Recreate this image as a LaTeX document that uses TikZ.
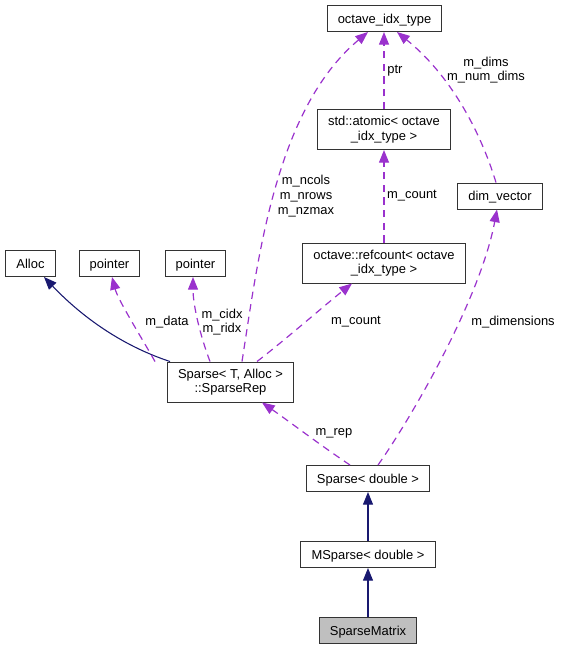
\documentclass[tikz,border=0pt]{standalone}
\usepackage{fontspec}
\setmainfont{Liberation Sans}
\usetikzlibrary{arrows.meta}
\definecolor{inhblue}{RGB}{25,25,112}
\definecolor{usepurple}{RGB}{154,50,205}
\newcommand{\dxfont}{\fontsize{9.7}{11}\selectfont}
\tikzset{
  cls/.style={draw=black!80, line width=0.75pt, font=\dxfont, inner xsep=8pt, inner ysep=2pt, text height=8pt, text depth=1pt, minimum height=19.5pt},
  twoline/.style={align=center, text height=, text depth=, minimum height=30pt},
  lbl/.style={font=\dxfont, align=center, inner sep=0pt},
  inherit/.style={draw=inhblue, line width=0.8pt, -{Triangle[length=9.5pt,width=7.5pt]}},
  member/.style={draw=usepurple, line width=0.9pt, dash pattern=on 5.5pt off 4pt, -{Triangle[length=9.5pt,width=7.5pt,fill=usepurple]}}
}
\begin{document}
\begin{tikzpicture}[x=0.75pt,y=-0.75pt]
\useasboundingbox (0,0) rectangle (561,649);
\node[cls] (idx) at (384.5,18.5) {octave\_idx\_type};
\node[cls,twoline] (atomic) at (384,129.5) {std::atomic< octave\\\_idx\_type >};
\node[cls] (dim) at (500,196) {dim\_vector};
\node[cls,twoline] (refc) at (384,263) {octave::refcount< octave\\\_idx\_type >};
\node[cls] (alloc) at (30.5,263.5) {Alloc};
\node[cls] (ptra) at (109.5,263.5) {pointer};
\node[cls] (ptrb) at (195.5,263.5) {pointer};
\node[cls,twoline] (rep) at (230.5,382) {Sparse< T, Alloc >\\::SparseRep};
\node[cls] (sparse) at (368,478.5) {Sparse< double >};
\node[cls] (msp) at (368,554.5) {MSparse< double >};
\node[cls,fill=black!25] (smat) at (368,630.5) {SparseMatrix};
% labels
\node[lbl] (lptr) at (395,71) {ptr};
\node[lbl] (ldims) at (486,70) {m\_dims\\m\_num\_dims};
\node[lbl] (lsize) at (306,196) {m\_ncols\\m\_nrows\\m\_nzmax};
\node[lbl] (lcnta) at (412,196) {m\_count};
\node[lbl] (ldata) at (167,322) {m\_data};
\node[lbl] (lidx) at (222,322) {m\_cidx\\m\_ridx};
\node[lbl] (lcntb) at (356,322) {m\_count};
\node[lbl] (ldimen) at (513,322) {m\_dimensions};
\node[lbl] (lrep) at (334,433) {m\_rep};
% inheritance
\draw[inherit] (rep.north -| 170,0) .. controls (120,345) and (80,315) .. (alloc.south -| 44,0);
\draw[inherit] (msp.north) -- (sparse.south);
\draw[inherit] (smat.north) -- (msp.south);
% members
\draw[member] (rep.north -| 155,0) .. controls (140,335) and (118,300) .. (ptra.south -| 112,0);
\draw[member] (rep.north -| 210,0) .. controls (200,335) and (193,305) .. (ptrb.south -| 193,0);
\draw[member] (rep.north -| 242,0) .. controls (258,260) and (275,110) .. (idx.south -| 368,0);
\draw[member] (rep.north -| 257,0) .. controls (285,340) and (325,305) .. (refc.south -| 352,0);
\draw[member] (sparse.north -| 350,0) .. controls (320,445) and (290,422) .. (rep.south -| 262,0);
\draw[member] (sparse.north -| 378,0) .. controls (410,420) and (480,300) .. (dim.south -| 497,0);
\draw[member] (dim.north -| 496,0) .. controls (480,130) and (450,75) .. (idx.south -| 397,0);
\draw[member] (atomic.north) -- (atomic.north |- idx.south);
\draw[member] (refc.north) -- (refc.north |- atomic.south);
\end{tikzpicture}
\end{document}
